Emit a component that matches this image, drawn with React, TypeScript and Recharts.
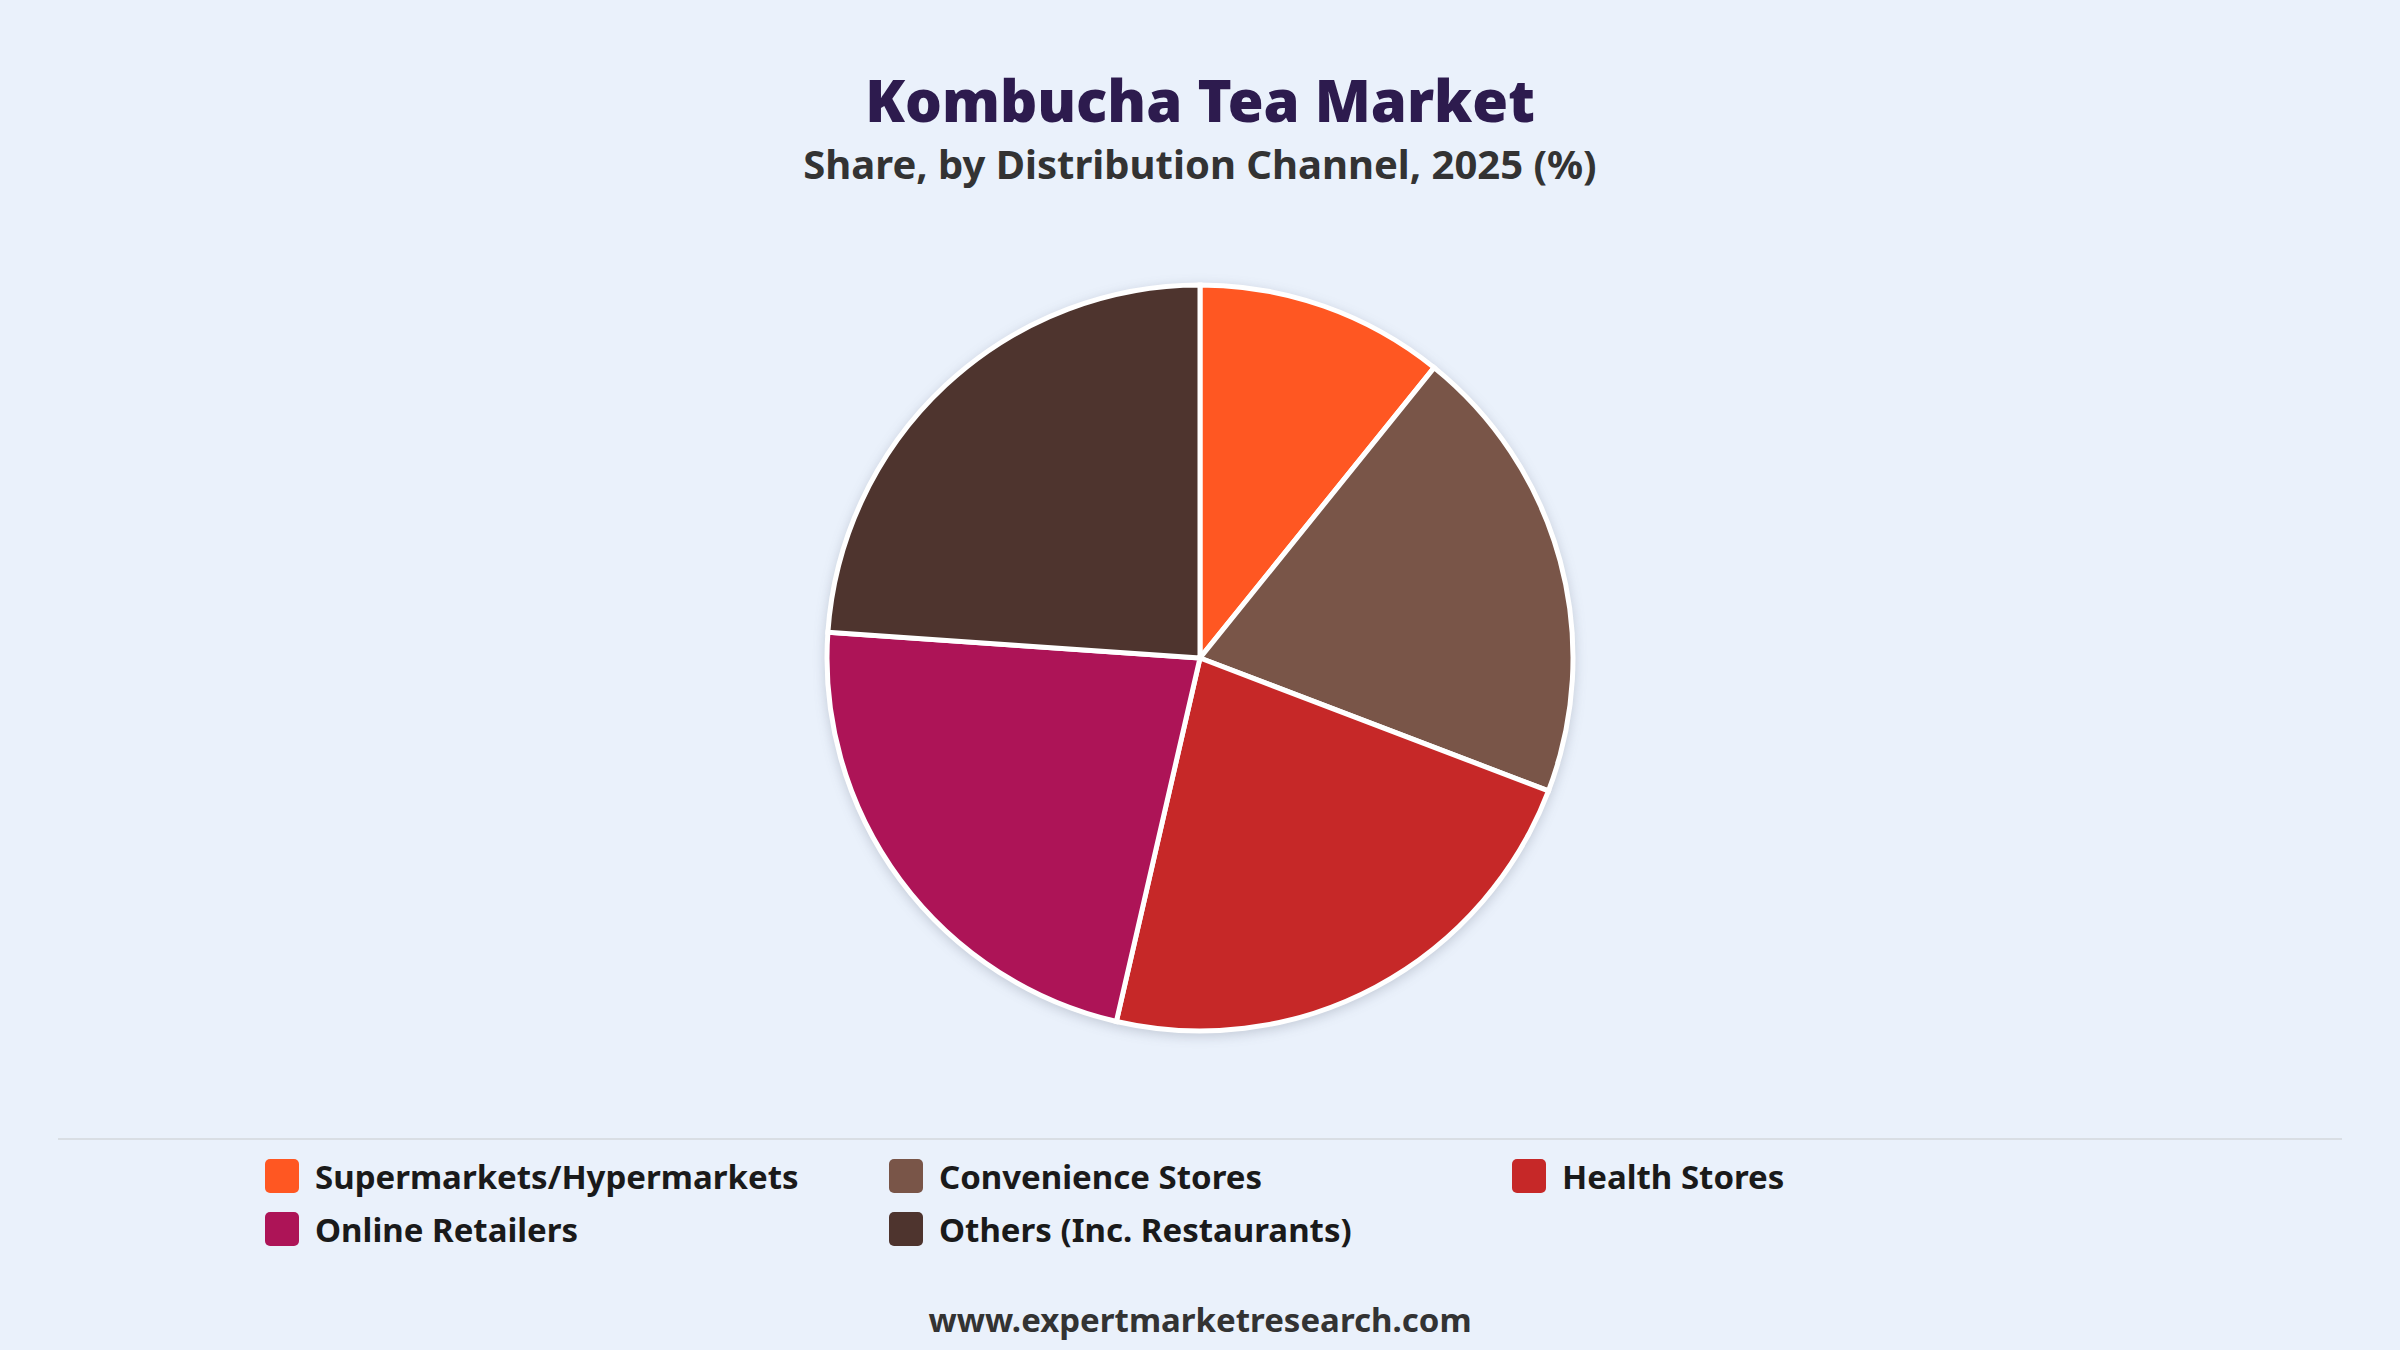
import React from "react";
import { PieChart, Pie, Cell } from "recharts";

const categories = [
  "Supermarkets/Hypermarkets",
  "Convenience Stores",
  "Health Stores",
  "Online Retailers",
  "Others (Inc. Restaurants)",
];
const shares = [10.8, 20.0, 22.8, 22.5, 23.9];
const colors = ["#FF5722", "#795548", "#C62828", "#AD1457", "#4E342E"];

const title = "Kombucha Tea Market";
const subtitle = "Share, by Distribution Channel, 2025 (%)";
const footer = "www.expertmarketresearch.com";

const data = categories.map((name, i) => ({ name, value: shares[i] }));

const FONT = "'Noto Sans', 'Open Sans', sans-serif";

export default function App() {
  const legendCols = [265, 889, 1512];
  const legendRows = [1176, 1229];
  return (
    <div
      style={{
        position: "absolute",
        left: 0,
        top: 0,
        width: 2400,
        height: 1350,
        background: "#EAF1FB",
        overflow: "hidden",
        fontFamily: FONT,
      }}
    >
      <div
        style={{
          position: "absolute",
          left: 0,
          top: 0,
          width: 2400,
          height: 1350,
          filter: "drop-shadow(0px 3px 6px rgba(60,70,90,0.22))",
        }}
      >
        <PieChart
          width={2400}
          height={1350}
          margin={{ top: 0, right: 0, bottom: 0, left: 0 }}
        >
          <Pie
            data={data}
            dataKey="value"
            nameKey="name"
            cx={1200}
            cy={658}
            outerRadius={373}
            startAngle={90}
            endAngle={-270}
            stroke="#FFFFFF"
            strokeWidth={5}
            isAnimationActive={false}
            label={false}
            labelLine={false}
          >
            {data.map((d, i) => (
              <Cell key={d.name} fill={colors[i]} />
            ))}
          </Pie>
        </PieChart>
      </div>

      <div
        style={{
          position: "absolute",
          left: 0,
          width: 2400,
          top: 100,
          transform: "translateY(-50%)",
          textAlign: "center",
          fontSize: 58,
          fontWeight: 900,
          color: "#2D1B4E",
          lineHeight: 1,
        }}
      >
        {title}
      </div>
      <div
        style={{
          position: "absolute",
          left: 0,
          width: 2400,
          top: 164,
          transform: "translateY(-50%)",
          textAlign: "center",
          fontSize: 40,
          fontWeight: 700,
          color: "#333333",
          lineHeight: 1,
        }}
      >
        {subtitle}
      </div>

      <div
        style={{
          position: "absolute",
          left: 58,
          width: 2284,
          top: 1138,
          height: 2,
          background: "#D9DEE4",
        }}
      />

      {categories.map((name, i) => {
        const col = i % 3;
        const row = Math.floor(i / 3);
        return (
          <div
            key={name}
            style={{
              position: "absolute",
              left: legendCols[col],
              top: legendRows[row],
              transform: "translateY(-50%)",
              display: "flex",
              alignItems: "center",
            }}
          >
            <div
              style={{
                width: 34,
                height: 34,
                borderRadius: 5,
                background: colors[i],
                marginRight: 16,
              }}
            />
            <span
              style={{
                fontSize: 33,
                fontWeight: 700,
                color: "#1A1A1A",
                lineHeight: 1,
                whiteSpace: "nowrap",
              }}
            >
              {name}
            </span>
          </div>
        );
      })}

      <div
        style={{
          position: "absolute",
          left: 0,
          width: 2400,
          top: 1319,
          transform: "translateY(-50%)",
          textAlign: "center",
          fontSize: 33,
          fontWeight: 700,
          color: "#333333",
          lineHeight: 1,
        }}
      >
        {footer}
      </div>
    </div>
  );
}
